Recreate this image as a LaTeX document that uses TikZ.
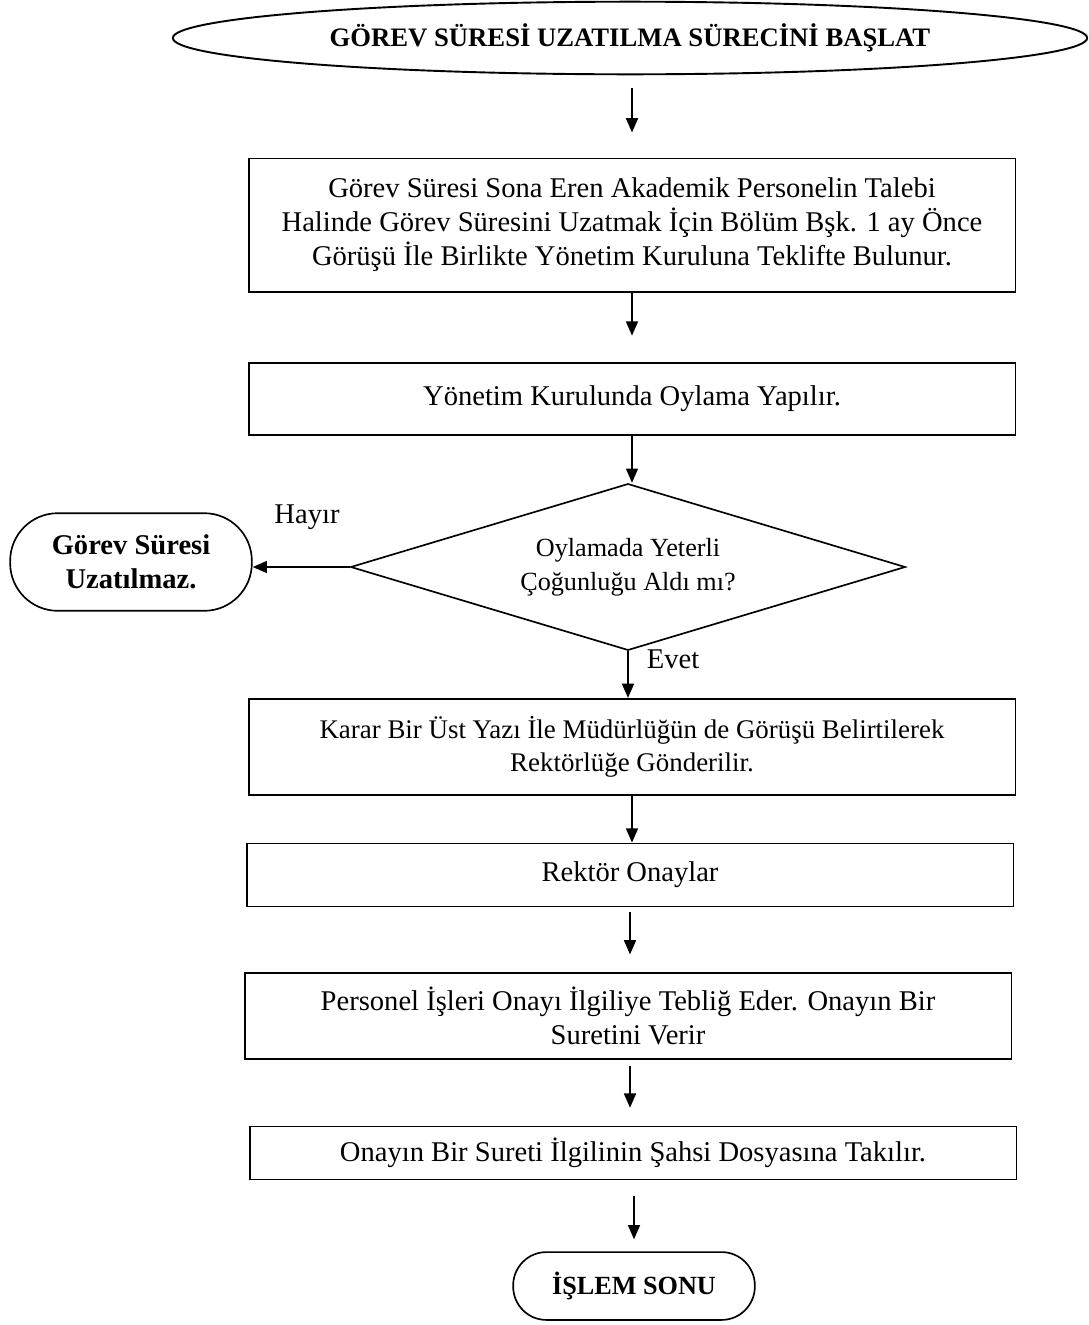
\documentclass[tikz,border=0pt]{standalone}
\usepackage{fontspec}
\setmainfont{Liberation Serif}
\usetikzlibrary{arrows.meta, shapes.geometric, positioning}
\newcommand{\boxw}{322pt}
\tikzset{
    procbox/.style={rectangle, draw, line width=0.7pt, minimum width=\boxw,
    align=center, font=\fontsize{12}{14.3}\selectfont},
    startell/.style={ellipse, draw, line width=0.8pt, minimum width=384pt,
    minimum height=30.5pt, inner sep=0pt, font=\fontsize{11.2}{13}\selectfont\bfseries},
    termbox/.style={rectangle, draw, line width=0.7pt, align=center,
    font=\fontsize{12}{14.3}\selectfont\bfseries},
    decision/.style={diamond, draw, line width=0.7pt, aspect=3.33, minimum width=233pt,
    minimum height=70pt, inner sep=0pt, align=center, font=\fontsize{11}{14.3}\selectfont},
    lbl/.style={font=\fontsize{12}{14}\selectfont},
    arrbig/.style={-{Triangle[length=6pt, width=5pt]}, line width=0.8pt},
}
\begin{document}
\begin{tikzpicture}[x=0.42pt, y=-0.42pt]
    \useasboundingbox (0,0) rectangle (1089,1325);

% Baslangic
        \node[startell] (start) at (630,38) {GÖREV SÜRESİ UZATILMA SÜRECİNİ BAŞLAT};

% Adimlar
        \node[procbox, minimum height=56pt] (teklif) at (632,225)
            {Görev Süresi Sona Eren Akademik Personelin Talebi\\Halinde Görev Süresini Uzatmak İçin Bölüm Bşk. 1 ay Önce\\Görüşü İle Birlikte Yönetim Kuruluna Teklifte Bulunur.};
        \node[procbox, minimum height=30.5pt] (oylama) at (632,399) {Yönetim Kurulunda Oylama Yapılır.};

        \node[decision] (karar) at (628,567) {Oylamada Yeterli\\Çoğunluğu Aldı mı?};
        \node[termbox, minimum width=101.5pt, minimum height=41pt, rounded corners=20pt] (red) at (131,562)
            {Görev Süresi\\Uzatılmaz.};
        \node[lbl] (hayir) at (307,517) {Hayır};
        \node[lbl] (evet) at (673,659) {Evet};

        \node[procbox, minimum height=40.5pt, font=\fontsize{11.3}{14}\selectfont] (yazi) at (632,747)
            {Karar Bir Üst Yazı İle Müdürlüğün de Görüşü Belirtilerek\\Rektörlüğe Gönderilir.};
        \node[procbox, minimum height=26.5pt] (rektor) at (630,875) {Rektör Onaylar};
        \node[procbox, minimum height=36pt] (teblig) at (628,1016)
            {Personel İşleri Onayı İlgiliye Tebliğ Eder. Onayın Bir\\Suretini Verir};
        \node[procbox, minimum height=22.3pt] (dosya) at (633,1153) {Onayın Bir Sureti İlgilinin Şahsi Dosyasına Takılır.};

% Bitis
        \node[termbox, minimum width=101.5pt, minimum height=28.5pt, rounded corners=14pt,
            font=\fontsize{11}{13}\selectfont\bfseries] (son) at (634,1286) {İŞLEM SONU};

% Oklar
        \draw[arrbig, shorten <=5.5pt, shorten >=10.5pt] (start.south -| teklif.north) -- (teklif.north);
        \draw[arrbig, shorten >=11pt] (teklif.south) -- (oylama.north);
        \draw[arrbig] (oylama.south) -- (oylama.south |- karar.north);
        \draw[arrbig] (karar.west) -- (karar.west -| red.east);
        \draw[arrbig] (karar.south) -- (karar.south |- yazi.north);
        \draw[arrbig] (yazi.south) -- (yazi.south |- rektor.north);
        \draw[arrbig, shorten <=2pt, shorten >=7.5pt] (rektor.south) -- (rektor.south |- teblig.north);
        \draw[arrbig, shorten <=2.5pt, shorten >=7.5pt] (teblig.south -| rektor.south) -- (rektor.south |- dosya.north);
        \draw[arrbig, shorten <=6.5pt, shorten >=5pt] (dosya.south -| son.north) -- (son.north);

\end{tikzpicture}
\end{document}
